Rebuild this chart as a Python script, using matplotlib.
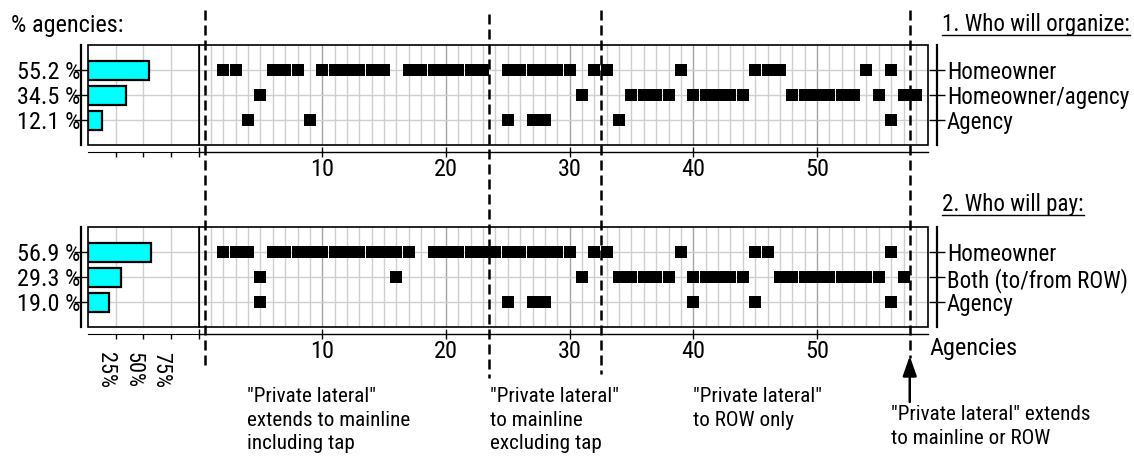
import matplotlib
matplotlib.use("Agg")
import matplotlib.pyplot as plt
from matplotlib import font_manager
from matplotlib.lines import Line2D
from matplotlib.patches import Rectangle
from matplotlib.transforms import blended_transform_factory

# ---- data -------------------------------------------------------------
organize_labels = ["Homeowner", "Homeowner/agency", "Agency"]
pay_labels = ["Homeowner", "Both (to/from ROW)", "Agency"]
organize_pct = [55.2, 34.5, 12.1]
pay_pct = [56.9, 29.3, 19.0]

organize_homeowner = [2, 3, 6, 7, 8, 10, 11, 12, 13, 14, 15, 17, 18, 19, 20, 21, 22, 23,
                      25, 26, 27, 28, 29, 30, 32, 33, 39, 45, 46, 47, 54, 56]
organize_both = [5, 31, 35, 36, 37, 38, 40, 41, 42, 43, 44, 48, 49, 50, 51, 52, 53, 55, 57, 58]
organize_agency = [4, 9, 25, 27, 28, 34, 56]

pay_homeowner = [2, 3, 4, 6, 7, 8, 9, 10, 11, 12, 13, 14, 15, 16, 17, 19, 20, 21, 22, 23,
                 24, 25, 26, 27, 28, 29, 30, 32, 33, 39, 45, 46, 56]
pay_both = [5, 16, 31, 34, 35, 36, 37, 38, 40, 41, 42, 43, 44, 47, 48, 49, 50, 51, 52, 53,
            54, 55, 57]
pay_agency = [5, 25, 27, 28, 40, 45, 56]

group_bounds = [0.5, 23.5, 32.5, 57.5]
agency_ticks = [0, 10, 20, 30, 40, 50]
agency_tick_labels = ["", "10", "20", "30", "40", "50"]
pct_ticks = [25, 50, 75]
pct_tick_labels = ["25%", "50%", "75%"]

group_notes = [
    '"Private lateral"\nextends to mainline\nincluding tap',
    '"Private lateral"\nto mainline\nexcluding tap',
    '"Private lateral"\nto ROW only',
    '"Private lateral" extends\nto mainline or ROW',
]

# ---- fonts ------------------------------------------------------------
available = {f.name for f in font_manager.fontManager.ttflist}
family = "Roboto Condensed" if "Roboto Condensed" in available else "Liberation Sans"
plt.rcParams["font.family"] = [family, "DejaVu Sans"]
FS = 17.5        # left tick labels, axis numbers, small titles
FS_R = 16.6      # category names and panel titles on the right
FS_NOTE = 15.2   # group notes under the panels
FS_ROT = 16      # rotated percentage ticks

# ---- layout helpers (pixel box -> figure fraction) -----------------------
W, H = 1134, 458
fig = plt.figure(figsize=(W / 100, H / 100), dpi=100)


def box(left, top, right, bottom):
    return [left / W, 1 - bottom / H, (right - left) / W, (bottom - top) / H]


def fx(px):
    return px / W


def fy(py):
    return 1 - py / H


GRID_LIGHT = "#cfcfcf"
GRID_MAJOR = "#a3a3a3"


def frame(ax):
    ax.add_patch(Rectangle((0, 0), 1, 1, transform=ax.transAxes, fill=False,
                           edgecolor="black", lw=1.2, clip_on=False, zorder=5))


def style_matrix(ax, labels):
    ax.set_xlim(0, 59)
    ax.set_ylim(4, 0)
    for s in ["top", "left"]:
        ax.spines[s].set_visible(False)
    ax.spines["right"].set_position(("outward", 6))
    ax.spines["bottom"].set_position(("outward", 5))
    ax.spines["right"].set_linewidth(1.6)
    ax.spines["bottom"].set_linewidth(1.0)
    ax.yaxis.tick_right()
    ax.set_yticks([1, 2, 3])
    ax.set_yticklabels(labels, fontsize=FS_R)
    ax.tick_params(axis="y", direction="inout", length=11, width=1.0, pad=2)
    ax.set_xticks(agency_ticks)
    ax.set_xticklabels(agency_tick_labels, fontsize=FS)
    ax.set_xticks(range(0, 60), minor=True)
    ax.tick_params(axis="x", which="major", direction="inout", length=7, width=1.0, pad=1)
    ax.tick_params(axis="x", which="minor", length=0)
    ax.grid(True, axis="x", which="minor", color=GRID_LIGHT, lw=1.0)
    ax.grid(True, axis="x", which="major", color=GRID_MAJOR, lw=1.0)
    ax.grid(True, axis="y", which="major", color=GRID_LIGHT, lw=1.0)
    ax.set_axisbelow(True)
    frame(ax)


def style_bars(ax, values, rotated_labels):
    ax.barh([1, 2, 3], values, height=0.76, color="#00ffff", edgecolor="black",
            lw=1.6, zorder=3)
    ax.set_xlim(0, 100)
    ax.set_ylim(4, 0)
    for s in ["top", "right"]:
        ax.spines[s].set_visible(False)
    ax.spines["left"].set_position(("outward", 5))
    ax.spines["bottom"].set_position(("outward", 5))
    ax.spines["left"].set_linewidth(1.6)
    ax.set_yticks([1, 2, 3])
    ax.set_yticklabels([f"{v:.1f} %" for v in values], fontsize=FS)
    ax.tick_params(axis="y", direction="inout", length=9.5, width=1.0, pad=-4)
    ax.set_xticks(pct_ticks)
    ax.tick_params(axis="x", direction="out", length=3.5, width=1.0)
    if rotated_labels:
        ax.set_xticklabels(pct_tick_labels, fontsize=FS_ROT, rotation=-90,
                           ha="right", va="top")
        ax.tick_params(axis="x", pad=9)
    else:
        ax.set_xticklabels([])
    ax.grid(True, color=GRID_LIGHT, lw=1.0)
    ax.set_axisbelow(True)
    frame(ax)


def plot_rows(ax, rows):
    for y, xs in enumerate(rows, start=1):
        ax.plot(xs, [y] * len(xs), ls="none", marker="s", ms=8.4, mew=0,
                color="black", zorder=4, clip_on=False)


# ---- axes -------------------------------------------------------------
ax_org = fig.add_axes(box(198.6, 45, 928.3, 145))
ax_pay = fig.add_axes(box(198.6, 227.3, 928.3, 327.3))
bar_org = fig.add_axes(box(88.3, 45, 198.6, 145))
bar_pay = fig.add_axes(box(88.3, 227.3, 198.6, 327.3))

style_matrix(ax_org, organize_labels)
style_matrix(ax_pay, pay_labels)
plot_rows(ax_org, [organize_homeowner, organize_both, organize_agency])
plot_rows(ax_pay, [pay_homeowner, pay_both, pay_agency])
style_bars(bar_org, organize_pct, False)
style_bars(bar_pay, pay_pct, True)

# ---- group boundaries and notes ----------------------------------------
blend = blended_transform_factory(ax_org.transData, fig.transFigure)
bound_spans = [(10, 370), (14, 378), (10, 374), (10, 358)]
for xb, (t, b) in zip(group_bounds, bound_spans):
    fig.add_artist(Line2D([xb, xb], [fy(t), fy(b)], transform=blend, color="black",
                          lw=1.8, ls=(0, (4, 2)), zorder=10))

ax_org.annotate("", xy=(group_bounds[-1], fy(356)), xycoords=blend,
                xytext=(group_bounds[-1], fy(402)), textcoords=blend,
                arrowprops=dict(arrowstyle="-|>,head_length=0.8,head_width=0.28",
                                color="black", lw=1.8, mutation_scale=15,
                                shrinkA=0, shrinkB=0))

note_pos = [(247, 387), (490, 387), (693, 387), (891, 405)]
for txt, (px, py) in zip(group_notes, note_pos):
    fig.text(fx(px), fy(py), txt, fontsize=FS_NOTE, ha="left", va="top",
             linespacing=1.3)

# ---- titles -----------------------------------------------------------
fig.text(fx(11), fy(32), "% agencies:", fontsize=FS, ha="left", va="baseline")
fig.text(fx(929), fy(355), "Agencies", fontsize=FS, ha="left", va="baseline")

titles = []
titles.append((fig.text(fx(942), fy(31), "1. Who will organize:", fontsize=FS_R,
                        ha="left", va="baseline"), 35))
titles.append((fig.text(fx(942), fy(211), "2. Who will pay:", fontsize=FS_R,
                        ha="left", va="baseline"), 215))

fig.canvas.draw()
renderer = fig.canvas.get_renderer()
for t, uy in titles:
    bb = t.get_window_extent(renderer)
    fig.add_artist(Line2D([bb.x0 / W, bb.x1 / W], [fy(uy), fy(uy)],
                          transform=fig.transFigure, color="black", lw=1.0))

fig.savefig("out.png", dpi=100)
